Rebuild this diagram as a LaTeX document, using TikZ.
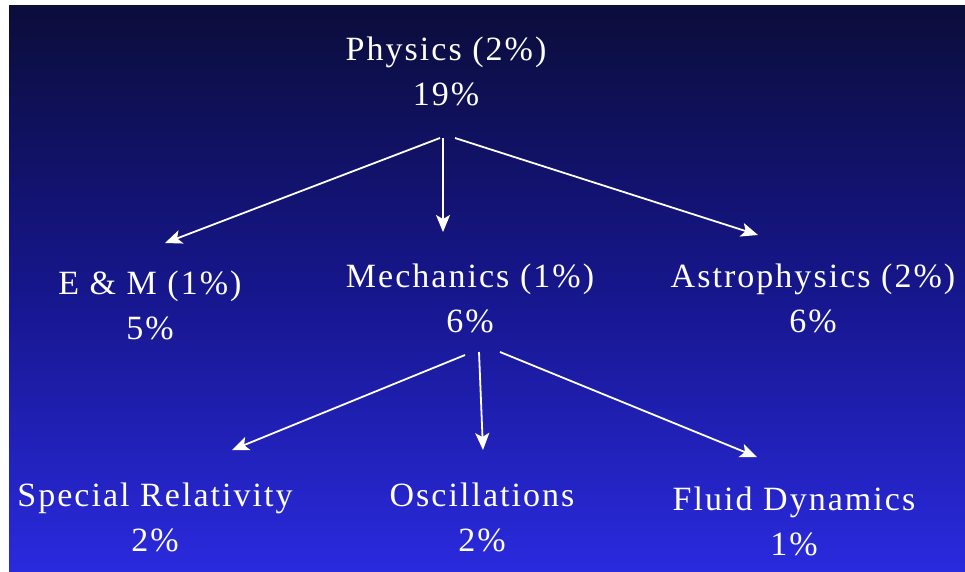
\documentclass[tikz,border=0pt]{standalone}
\usepackage{fontspec}
\setmainfont{Liberation Serif}[LetterSpace=6]
\usetikzlibrary{arrows.meta}
\definecolor{bgtop}{RGB}{11,13,58}
\definecolor{bgmid}{RGB}{22,22,140}
\definecolor{bgbot}{RGB}{42,42,222}
\tikzset{
  lbl/.style={text=white, align=center, font=\fontsize{34}{45}\selectfont, inner sep=0pt},
  arr/.style={draw=white, line width=1.8pt, -{Stealth[length=17pt,width=14pt,inset=4pt]}}
}
\begin{document}
\begin{tikzpicture}[x=1pt,y=-1pt]
\useasboundingbox (0,0) rectangle (965,571);
\fill[white] (0,0) rectangle (965,571);
\shade[top color=bgtop, bottom color=bgbot, middle color=bgmid] (9,5) rectangle (965,571);

\node[lbl] (phys) at (446,71) {Physics (2\%)\\19\%};
\node[lbl] (em) at (150,305) {E \& M (1\%)\\5\%};
\node[lbl] (mech) at (470,298) {Mechanics (1\%)\\6\%};
\node[lbl] (astro) at (813,298) {Astrophysics (2\%)\\6\%};
\node[lbl] (sr) at (155,517) {Special Relativity\\2\%};
\node[lbl] (osc) at (482,517) {Oscillations\\2\%};
\node[lbl] (fluid) at (794,521) {Fluid Dynamics\\1\%};

\draw[arr] ([shift={(-6,67)}]phys.center) -- ([shift={(15,-62)}]em.center);
\draw[arr] ([shift={(-3,67)}]phys.center) -- ([shift={(-27,-66)}]mech.center);
\draw[arr] ([shift={(9,67)}]phys.center) -- ([shift={(-55,-63)}]astro.center);
\draw[arr] ([shift={(-5,57)}]mech.center) -- ([shift={(77,-67)}]sr.center);
\draw[arr] ([shift={(9,54)}]mech.center) -- ([shift={(1,-67)}]osc.center);
\draw[arr] ([shift={(30,54)}]mech.center) -- ([shift={(-37,-64)}]fluid.center);
\end{tikzpicture}
\end{document}
